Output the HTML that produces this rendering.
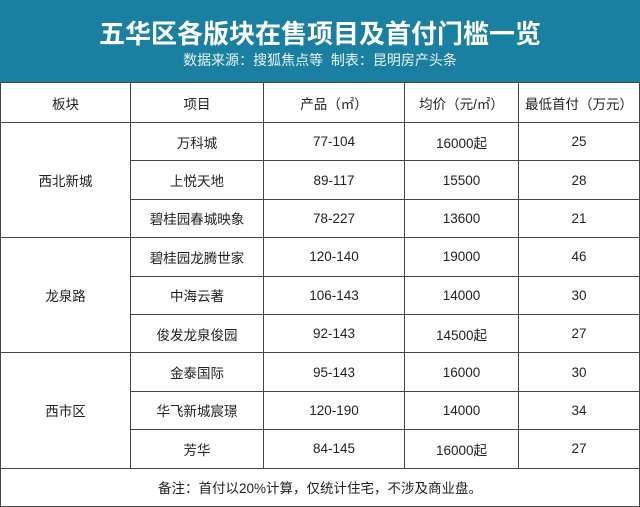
<!DOCTYPE html><html><head><meta charset="utf-8"><style>
body{margin:0;width:640px;height:506px;overflow:hidden;background:#fff;font-family:"Liberation Sans","Noto Sans CJK SC",sans-serif;}
.hd{position:absolute;left:0;top:0;width:640px;height:82px;background:#1a80a1;color:#fff;text-align:center;}
.t{position:absolute;top:14px;width:640px;font-size:26px;font-weight:bold;}
.s{position:absolute;top:50px;width:640px;font-size:14px;color:#e8f4f8}
table{position:absolute;left:0;top:82px;border-collapse:collapse;width:639px;table-layout:fixed}
td{border:1px solid #444;text-align:center;font-size:13.5px;color:#222;padding:0;height:38.4px;box-sizing:border-box}
tr.h td{height:40px}
</style></head><body>
<div class="hd"><div class="t">五华区各版块在售项目及首付门槛一览</div><div class="s">数据来源：搜狐焦点等&nbsp; 制表：昆明房产头条</div></div>
<table>
<colgroup><col style="width:130px"><col style="width:133px"><col style="width:141px"><col style="width:114px"><col style="width:121px"></colgroup>
<tr class="h"><td>板块</td><td>项目</td><td>产品（㎡）</td><td>均价（元/㎡）</td><td>最低首付（万元）</td></tr>
<tr><td rowspan="3">西北新城</td><td>万科城</td><td>77-104</td><td>16000起</td><td>25</td></tr>
<tr><td>上悦天地</td><td>89-117</td><td>15500</td><td>28</td></tr>
<tr><td>碧桂园春城映象</td><td>78-227</td><td>13600</td><td>21</td></tr>
<tr><td rowspan="3">龙泉路</td><td>碧桂园龙腾世家</td><td>120-140</td><td>19000</td><td>46</td></tr>
<tr><td>中海云著</td><td>106-143</td><td>14000</td><td>30</td></tr>
<tr><td>俊发龙泉俊园</td><td>92-143</td><td>14500起</td><td>27</td></tr>
<tr><td rowspan="3">西市区</td><td>金泰国际</td><td>95-143</td><td>16000</td><td>30</td></tr>
<tr><td>华飞新城宸璟</td><td>120-190</td><td>14000</td><td>34</td></tr>
<tr><td>芳华</td><td>84-145</td><td>16000起</td><td>27</td></tr>
<tr><td colspan="5" style="height:38px">备注：首付以20%计算，仅统计住宅，不涉及商业盘。</td></tr>
</table>
</body></html>
